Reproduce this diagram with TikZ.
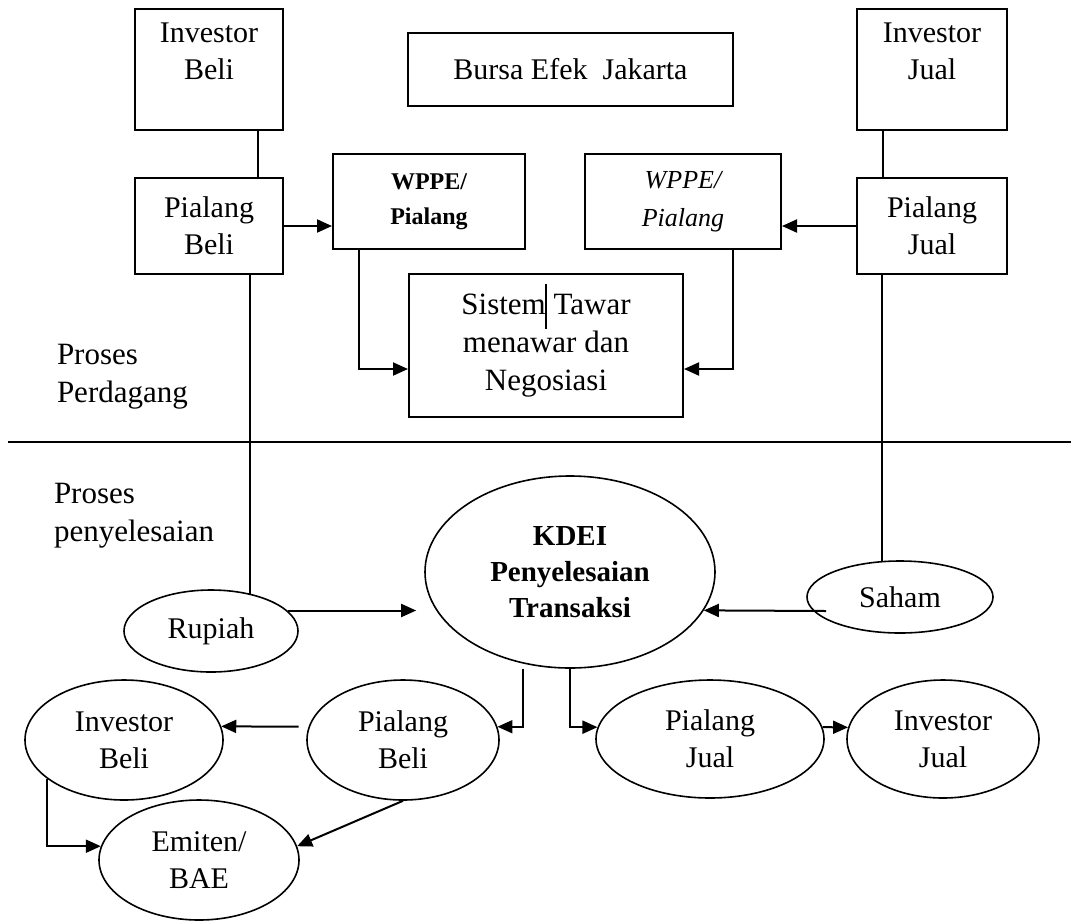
\documentclass[tikz,border=0pt]{standalone}
\usepackage{fontspec}
\setmainfont{Liberation Serif}
\usepackage{tikz}
\usetikzlibrary{
  arrows.meta,
  positioning,
  shapes.geometric,
  calc,
}

\begin{document}
\begin{tikzpicture}[
    x=1pt, y=-1pt,
    box/.style={rectangle, draw, line width=2pt, align=center, inner sep=0pt,
                font=\fontsize{30}{37}\selectfont},
    oval/.style={ellipse, draw, line width=1.6pt, align=center, inner sep=0pt,
                 font=\fontsize{30}{37}\selectfont},
    side/.style={anchor=north west, align=left, inner sep=0pt,
                 font=\fontsize{31}{38}\selectfont},
    >={Triangle[length=15pt,width=13pt]}, line width=2pt,
  ]
  \useasboundingbox (0,0) rectangle (1071,922);

  % trading part (boxes)
  \node[box, minimum width=148pt, minimum height=121pt] (invbeli) at (209,69.5) {Investor\\Beli\\~};
  \node[box, minimum width=325pt, minimum height=73pt]  (bursa)   at (570.5,69.5) {Bursa Efek\ \ Jakarta};
  \node[box, minimum width=150pt, minimum height=121pt] (invjual) at (932,69.5) {Investor\\Jual\\~};
  \node[box, minimum width=148pt, minimum height=96pt]  (pibeli)  at (209,226) {Pialang\\Beli};
  \node[box, minimum width=192pt, minimum height=95pt,
        font=\fontsize{24}{35}\selectfont\bfseries]       (wppeb)   at (429,201.5) {WPPE/\\Pialang};
  \node[box, minimum width=196pt, minimum height=95pt,
        font=\fontsize{26}{38}\selectfont\itshape]        (wppej)   at (683,201.5) {WPPE/\\Pialang};
  \node[box, minimum width=150pt, minimum height=96pt]  (pijual)  at (932,226) {Pialang\\Jual};
  \node[box, minimum width=274pt, minimum height=143pt,
        font=\fontsize{31}{38}\selectfont]                (sistem)  at (546,345.5) {Sistem Tawar\\menawar dan\\Negosiasi};
  \draw[line width=1.5pt] ([yshift=-11pt]sistem.north) -- ([yshift=-56pt]sistem.north);

  \node[side] (perdagang)    at (56,343) {Proses\\Perdagang};
  \node[side] (penyelesaian) at (53,482) {Proses\\penyelesaian};

  \coordinate (divl) at (8,442);
  \coordinate (divr) at (1071,442);
  \draw (divl) -- (divr);

  % settlement part (ovals)
  \node[oval, minimum width=290pt, minimum height=192pt,
        font=\fontsize{29}{36}\selectfont\bfseries] (kdei) at (570,572) {KDEI\\Penyelesaian\\Transaksi};
  \node[oval, minimum width=174pt, minimum height=82pt]  (rupiah)   at (211,631) {Rupiah};
  \node[oval, minimum width=186pt, minimum height=72pt]  (saham)    at (900,597) {Saham};
  \node[oval, minimum width=198pt, minimum height=120pt] (einvbeli) at (124,740) {Investor\\Beli};
  \node[oval, minimum width=192pt, minimum height=120pt] (epibeli)  at (403,740) {Pialang\\Beli};
  \node[oval, minimum width=200pt, minimum height=120pt] (emiten)   at (199,860) {Emiten/\\BAE};
  \node[oval, minimum width=228pt, minimum height=118pt] (epijual)  at (710,739) {Pialang\\Jual};
  \node[oval, minimum width=192pt, minimum height=118pt] (einvjual) at (943,739) {Investor\\Jual};

  % connectors
  \draw ([xshift=49pt]invbeli.south) -- ([xshift=49pt]pibeli.north);
  \draw ([xshift=-49pt]invjual.south) -- ([xshift=-49pt]pijual.north);
  \draw[->] (pibeli.east) -- (pibeli.east -| wppeb.west);
  \draw[->] (pijual.west) -- (pijual.west -| wppej.east);
  \draw[->] ([xshift=-70pt]wppeb.south) |- ([yshift=-23.5pt]sistem.west);
  \draw[->] ([xshift=50pt]wppej.south) |- ([yshift=-23.5pt]sistem.east);
  \draw (rupiah.44 |- pibeli.south) -- (rupiah.44);
  \draw (saham.116 |- pijual.south) -- (saham.116);
  \draw[->] (rupiah.15) -- ([xshift=-8pt]kdei.west |- rupiah.15);
  \draw[->] ([xshift=20pt,yshift=-14pt]saham.west) -- (kdei.-16);
  \draw[->] ([xshift=-47pt]kdei.south) |- (epibeli.8);
  \draw[->] (kdei.south) |- (epijual.174);
  \draw[->] (epijual.6) -- (einvjual.173);
  \draw[->] ([xshift=-10pt]epibeli.172) -- (einvbeli.8);
  \draw[->] (einvbeli.207) |- (emiten.172);
  \draw[->] (epibeli.south) -- (emiten.8);
\end{tikzpicture}
\end{document}
